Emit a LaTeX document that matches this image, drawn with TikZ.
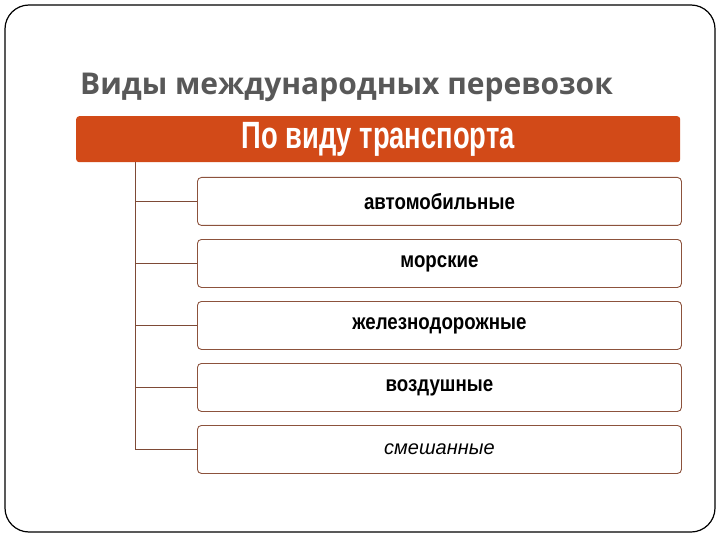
\documentclass[tikz,border=0pt]{standalone}
\usepackage{fontspec}
\setmainfont{Liberation Sans}
\newfontfamily\titlefont{Open Sans}
\newfontfamily\headfont[FakeStretch=0.72]{Liberation Sans Bold}
\newfontfamily\itemfont[FakeStretch=0.85]{Liberation Sans Bold}
\newfontfamily\italfont{Liberation Sans Italic}
\definecolor{hdr}{RGB}{210,74,24}
\definecolor{brd}{RGB}{140,82,60}
\definecolor{ttl}{RGB}{88,88,88}
\tikzset{
  itembox/.style={draw=brd, line width=0.9pt, rounded corners=4pt, fill=white, minimum width=484pt, minimum height=48pt, inner sep=0pt, anchor=north west, font=\itemfont\fontsize{22}{25}\selectfont},
  tree/.style={draw=brd!90!black, line width=0.9pt},
}
\begin{document}
\begin{tikzpicture}[x=1pt,y=-1pt]
\useasboundingbox (0,0) rectangle (720,540);
\draw[line width=1.2pt, rounded corners=24pt] (5,5) rectangle (715,532);
\node[anchor=base west, inner sep=0pt, text=ttl, font=\titlefont\bfseries\fontsize{30}{36}\selectfont] (title) at (80,95) {Виды международных перевозок};
\node[fill=hdr, rounded corners=3pt, minimum width=604pt, minimum height=46pt, inner sep=0pt, anchor=north west, text=white, font=\headfont\fontsize{38}{40}\selectfont] (head) at (76,116) {По виду транспорта};
\coordinate (top) at (135,162);
\foreach \i/\t in {1/автомобильные,2/морские,3/железнодорожные,4/воздушные}{
  \node[itembox] (b\i) at (197,{177+62*(\i-1)}) {\t};
}
\node[itembox, font=\italfont\fontsize{20}{24}\selectfont] (b5) at (197,425) {смешанные};
\draw[tree] (top) |- (b5.west);
\foreach \i in {1,...,4}{
  \draw[tree] (top |- b\i.west) -- (b\i.west);
}
\end{tikzpicture}
\end{document}
